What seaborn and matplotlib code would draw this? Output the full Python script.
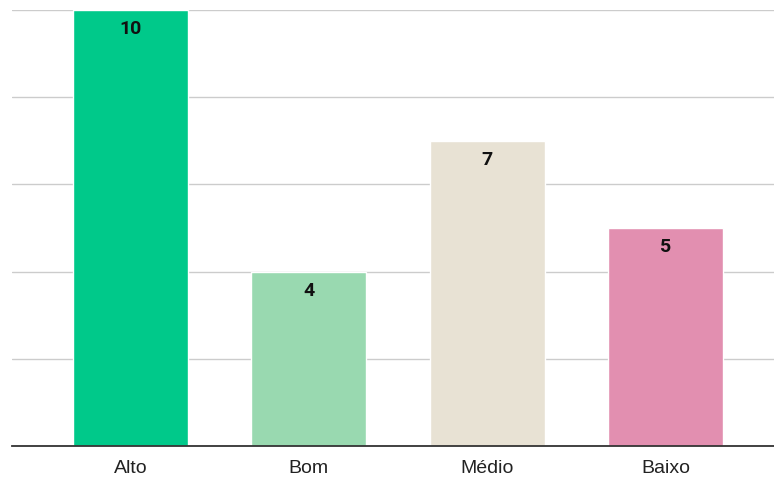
import matplotlib
matplotlib.use("Agg")
import matplotlib.pyplot as plt
import seaborn as sns
import pandas as pd

categories = ["Alto", "Bom", "Médio", "Baixo"]
values = [10, 4, 7, 5]
colors = ["#00C98A", "#99D9B0", "#E8E2D4", "#E28FB0"]

sns.set_theme(style="white")
plt.rcParams['font.family'] = ['Liberation Sans', 'DejaVu Sans']

df = pd.DataFrame({"cat": categories, "val": values})

fig = plt.figure(figsize=(7.74, 4.79), dpi=100)
ax = fig.add_axes([12/774, 33/479, 762/774, 436/479])

sns.barplot(data=df, x="cat", y="val", hue="cat", palette=colors,
            width=0.645, legend=False, ax=ax, saturation=1)

ax.set_ylim(0, 10)
ax.set_xlim(-0.664, 3.608)
ax.set_yticks([0, 2, 4, 6, 8, 10])
ax.yaxis.grid(True, color="#cccccc", linewidth=1)
ax.set_axisbelow(True)
ax.tick_params(axis="y", left=False, labelleft=False)
ax.tick_params(axis="x", bottom=False, labelsize=14, pad=4, colors="#222222")
for s in ["top", "right", "left"]:
    ax.spines[s].set_visible(False)
ax.spines["bottom"].set_color("#333333")
ax.spines["bottom"].set_linewidth(1.3)
ax.set_xlabel("")
ax.set_ylabel("")

for i, v in enumerate(values):
    ax.annotate(str(v), xy=(i, v), xytext=(0, -19), textcoords="offset pixels",
                ha="center", va="center",
                fontsize=14, fontweight="bold", family="Roboto", color="#111111")

fig.savefig("out.png", dpi=100)
